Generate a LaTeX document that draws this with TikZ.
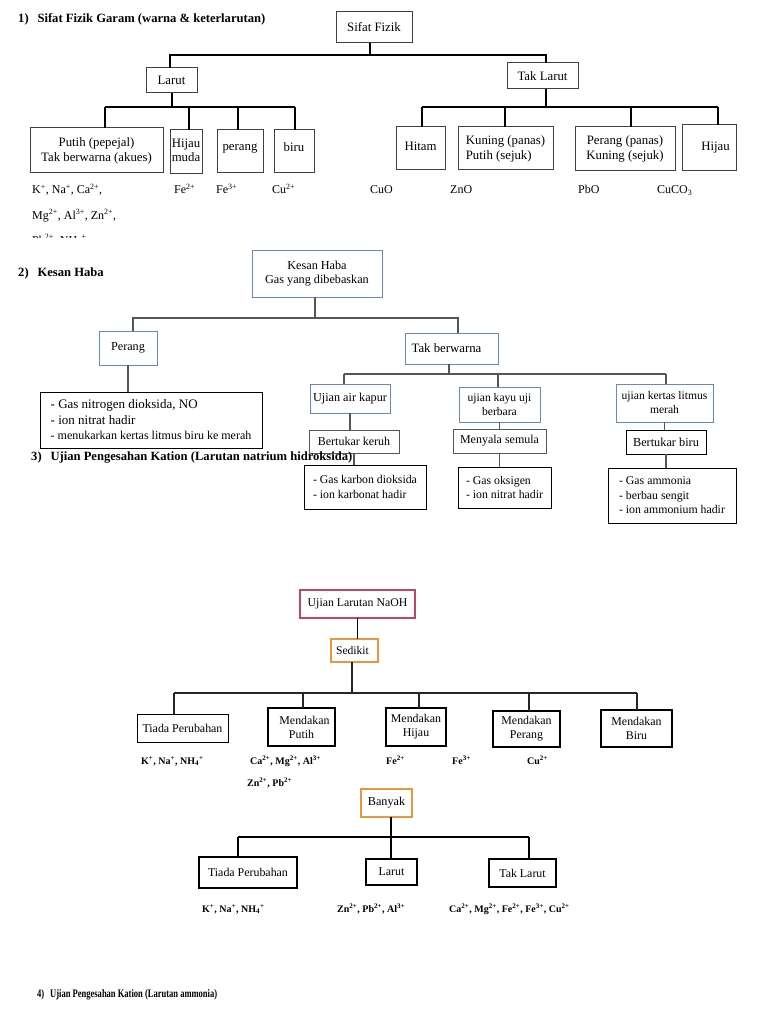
\documentclass[tikz,border=0pt]{standalone}
\usepackage{fontspec}
\setmainfont{Liberation Serif}
\usepackage{graphicx}
\usetikzlibrary{calc}
\definecolor{bblue}{RGB}{105,135,200}
\definecolor{rbox}{RGB}{195,70,95}
\definecolor{obox}{RGB}{235,150,60}
\definecolor{lgray}{RGB}{85,85,85}
\newcommand\sps[1]{\textsuperscript{#1}}
\newcommand\sbs[1]{\textsubscript{#1}}
\newcommand\bx[7]{\node[#2, minimum width={(#5-#3)*1pt}, minimum height={(#6-#4)*1pt}] (#1) at ({(#3+#5)/2},{(#4+#6)/2}) {#7};}
\tikzset{
  base/.style={inner sep=0pt, outer sep=0pt, align=center},
  box1/.style={base, draw=black!75, line width=1pt, font=\fontsize{12.8}{15}\selectfont},
  c1/.style={line width=2pt, black},
  bbox/.style={base, draw=bblue, line width=1pt, font=\fontsize{12.2}{14.5}\selectfont},
  gbox/.style={base, draw=lgray, line width=1pt, font=\fontsize{12}{14.5}\selectfont},
  kbox/.style={base, draw=black, line width=1pt, font=\fontsize{11.8}{14.5}\selectfont},
  c2/.style={line width=1.2pt, lgray},
  c3/.style={line width=1.3pt, black!85},
  c4/.style={line width=1.8pt, black},
  nbox/.style={base, draw=black, line width=1pt, font=\fontsize{11.9}{14}\selectfont},
  tbox/.style={base, draw=black, line width=1.9pt, font=\fontsize{11.9}{14}\selectfont},
  lab/.style={anchor=base west, inner sep=0pt, font=\fontsize{12}{12}\selectfont},
  blab/.style={anchor=base west, inner sep=0pt, font=\bfseries\fontsize{10}{10}\selectfont},
  ttl/.style={anchor=base west, inner sep=0pt, font=\bfseries\fontsize{12.6}{13}\selectfont}
}
\begin{document}
\begin{tikzpicture}[x=1pt,y=-1pt]
\fill[white] (0,0) rectangle (768,1024);
\useasboundingbox (0,0) rectangle (768,1024);

% ---------- Section 1 ----------
\node[ttl] (t1) at (18,23) {1)\hspace{0.7em}Sifat Fizik Garam (warna \& keterlarutan)};
\bx{sf}{box1}{336}{12}{412}{43}{Sifat Fizik}
\bx{larut}{box1}{146}{68}{197}{93}{Larut}
\bx{tl}{box1}{507}{63}{578}{89}{Tak Larut}
\bx{putih}{box1}{30}{128}{163}{173}{Putih (pepejal)\\Tak berwarna (akues)}
\bx{hm}{box1}{170}{130}{202}{174}{\raisebox{2pt}{\begin{tabular}{@{}c@{}}Hijau\\[-1pt]muda\end{tabular}}}
\bx{pr}{box1}{217}{130}{263}{173}{\raisebox{8pt}{perang}}
\bx{bi}{box1}{274}{130}{314}{173}{\raisebox{8pt}{biru}}
\bx{hi}{box1}{396}{127}{445}{170}{\raisebox{5pt}{Hitam}}
\node[box1, align=left, minimum width=95pt, minimum height=43pt] (ku) at (505.5,148.5) {Kuning (panas)\\Putih (sejuk)};
\bx{pe}{box1}{575}{127}{675}{171}{Perang (panas)\\Kuning (sejuk)}
\bx{hj}{box1}{682}{125}{736}{171}{\hspace*{13pt}Hijau}

\coordinate (b1L) at (170,55);
\coordinate (b1R) at (546,55);
\coordinate (b1M) at (370,55);
\draw[c1] (sf.south -| b1M) -- (b1M);
\draw[c1] (b1L |- larut.north) -- (b1L) -- (b1R) -- (b1R |- tl.north);

\coordinate (b2M) at (172,107);
\coordinate (d1) at (105,107);
\coordinate (d2) at (189,107);
\coordinate (d3) at (238,107);
\coordinate (d4) at (295,107);
\draw[c1] (larut.south -| b2M) -- (b2M);
\draw[c1] (d1) -- (d4);
\draw[c1] (d1) -- (d1 |- putih.north);
\draw[c1] (d2) -- (d2 |- hm.north);
\draw[c1] (d3) -- (d3 |- pr.north);
\draw[c1] (d4) -- (d4 |- bi.north);

\coordinate (b3M) at (546,107);
\coordinate (e1) at (422,107);
\coordinate (e2) at (505,107);
\coordinate (e3) at (631,107);
\coordinate (e4) at (718,107);
\draw[c1] (tl.south -| b3M) -- (b3M);
\draw[c1] (e1) -- (e4);
\draw[c1] (e1) -- (e1 |- hi.north);
\draw[c1] (e2) -- (e2 |- ku.north);
\draw[c1] (e3) -- (e3 |- pe.north);
\draw[c1] (e4) -- (e4 |- hj.north);

\node[lab] (l1a) at (32,194) {K\sps{+}, Na\sps{+}, Ca\sps{2+},};
\node[lab] (l1b) at (32,219) {Mg\sps{2+}, Al\sps{3+}, Zn\sps{2+},};
\begin{scope}
\clip (0,226) rectangle (300,237);
\node[lab] (l1c) at (32,244) {Pb\sps{2+}, NH\sbs{4}\sps{+}};
\end{scope}
\node[lab] (l1d) at (174,194) {Fe\sps{2+}};
\node[lab] (l1e) at (216,194) {Fe\sps{3+}};
\node[lab] (l1f) at (272,194) {Cu\sps{2+}};
\node[lab] (l1g) at (370,194) {CuO};
\node[lab] (l1h) at (450,194) {ZnO};
\node[lab] (l1i) at (578,194) {PbO};
\node[lab] (l1j) at (657,194) {CuCO\sbs{3}};

% ---------- Section 2 ----------
\node[ttl] (t2) at (18,276) {2)\hspace{0.7em}Kesan Haba};
\bx{kh}{bbox}{252}{250}{382}{297}{Kesan Haba\\Gas yang dibebaskan}
\bx{pg}{bbox}{99}{331}{157}{365}{Perang}
\bx{tb}{bbox, font=\fontsize{12.8}{14}\selectfont}{405}{333}{498}{364}{\hspace*{-10pt}Tak berwarna}
\node[kbox, font=\fontsize{13}{15.5}\selectfont, align=left, minimum width=222pt, minimum height=56pt] (big) at (151,420)
  {- Gas nitrogen dioksida, NO\\- ion nitrat hadir\\\fontsize{12}{12}\selectfont - menukarkan kertas litmus biru ke merah};

\coordinate (k1) at (133,318);
\coordinate (k2) at (458,318);
\coordinate (kM) at (315,318);
\draw[c2] (kh.south -| kM) -- (kM);
\draw[c2] (k1 |- pg.north) -- (k1) -- (k2) -- (k2 |- tb.north);
\draw[c2] (pg.south) -- (pg.south |- big.north);

\bx{uak}{bbox}{310}{384}{390}{413}{Ujian air kapur}
\bx{bk}{gbox}{309}{430}{399}{453}{Bertukar keruh}
\node[kbox, align=left, minimum width=122pt, minimum height=44pt] (gk) at (365,487) {- Gas karbon dioksida\\- ion karbonat hadir};
\bx{kyu}{bbox, font=\fontsize{11.6}{14}\selectfont}{459}{387}{540}{422}{ujian kayu uji\\berbara}
\bx{ms}{gbox}{453}{429}{546}{453}{Menyala semula}
\node[kbox, align=left, minimum width=93pt, minimum height=41pt] (go) at (504.5,487.5) {- Gas oksigen\\- ion nitrat hadir};
\bx{klm}{bbox, font=\fontsize{11.6}{14}\selectfont}{616}{384}{713}{422}{ujian kertas litmus\\merah}
\node[kbox, font=\fontsize{12.3}{14}\selectfont, minimum width=80pt, minimum height=24pt] (bb) at (666,442) {Bertukar biru};
\node[kbox, align=left, minimum width=128pt, minimum height=55pt] (ga) at (672,495.5) {- Gas ammonia\\- berbau sengit\\- ion ammonium hadir};

\coordinate (m1) at (344,374);
\coordinate (m2) at (498,374);
\coordinate (m3) at (666,374);
\coordinate (mM) at (449,374);
\draw[c2] (tb.south -| mM) -- (mM);
\draw[c2] (m1) -- (m3);
\draw[c2] (m1) -- (m1 |- uak.north);
\draw[c2] (m2) -- (m2 |- kyu.north);
\draw[c2] (m3) -- (m3 |- klm.north);
\draw[c2] (uak.south) -- (uak.south |- bk.north);
\draw[c2] (bk.south) -- (bk.south |- gk.north);
\draw[c2] (kyu.south) -- (kyu.south |- ms.north);
\draw[c2] (ms.south) -- (ms.south |- go.north);
\draw[c2] (klm.south) -- (klm.south |- bb.north);
\draw[c2] (bb.south) -- (bb.south |- ga.north);

% ---------- Section 3 ----------
\node[ttl] (t3) at (31,460) {3)\hspace{0.7em}Ujian Pengesahan Kation (Larutan natrium hidroksida)};

\bx{nao}{base, draw=rbox, line width=1.2pt, font=\fontsize{11.8}{13}\selectfont}{300}{590}{415}{618}{Ujian Larutan NaOH}
\bx{sed}{base, draw=obox, line width=1.6pt, font=\fontsize{11.6}{13}\selectfont}{331}{639}{378}{662}{\hspace*{-4pt}Sedikit}
\draw[c4] (nao.south) -- (nao.south |- sed.north);

\bx{tp1}{nbox}{137}{714}{228}{742}{Tiada Perubahan}
\bx{mp}{tbox}{268}{708}{335}{746}{\hspace*{6pt}Mendakan\\Putih}
\bx{mh}{base, draw=black, line width=1.3pt, font=\fontsize{11.9}{14}\selectfont}{386}{708}{446}{746}{Mendakan\\Hijau}
\bx{mpe}{tbox}{493}{711}{560}{747}{Mendakan\\Perang}
\bx{mbi}{tbox}{601}{710}{672}{747}{Mendakan\\Biru}

\coordinate (sM) at (352,693);
\coordinate (s1) at (174,693);
\coordinate (s2) at (303,693);
\coordinate (s3) at (419,693);
\coordinate (s4) at (529,693);
\coordinate (s5) at (637,693);
\draw[c3] (sed.south -| sM) -- (sM);
\draw[c3] (s1) -- (s5);
\draw[c3] (s1) -- (s1 |- tp1.north);
\draw[c3] (s2) -- (s2 |- mp.north);
\draw[c3] (s3) -- (s3 |- mh.north);
\draw[c3] (s4) -- (s4 |- mpe.north);
\draw[c3] (s5) -- (s5 |- mbi.north);

\node[blab] (l3a) at (141,764) {K\sps{+}, Na\sps{+}, NH\sbs{4}\sps{+}};
\node[blab] (l3b) at (250,764) {Ca\sps{2+}, Mg\sps{2+}, Al\sps{3+}};
\node[blab] (l3c) at (247,786) {Zn\sps{2+}, Pb\sps{2+}};
\node[blab] (l3d) at (386,764) {Fe\sps{2+}};
\node[blab] (l3e) at (452,764) {Fe\sps{3+}};
\node[blab] (l3f) at (527,764) {Cu\sps{2+}};

\bx{ban}{base, draw=obox, line width=1.6pt, font=\fontsize{12.2}{13}\selectfont}{361}{789}{412}{817}{Banyak}
\bx{tp2}{tbox}{199}{857}{297}{888}{Tiada Perubahan}
\bx{lar}{nbox, line width=1.5pt}{366}{859}{417}{885}{Larut}
\bx{tkl}{tbox}{489}{859}{556}{887}{Tak Larut}

\coordinate (n1) at (238,837);
\coordinate (n2) at (391,837);
\coordinate (n3) at (529,837);
\draw[c4] (ban.south -| n2) -- (n2 |- lar.north);
\draw[c4] (n1) -- (n3);
\draw[c4] (n1) -- (n1 |- tp2.north);
\draw[c4] (n3) -- (n3 |- tkl.north);

\node[blab] (l3g) at (202,912) {K\sps{+}, Na\sps{+}, NH\sbs{4}\sps{+}};
\node[blab] (l3h) at (337,912) {Zn\sps{2+}, Pb\sps{2+}, Al\sps{3+}};
\node[blab] (l3i) at (449,912) {Ca\sps{2+}, Mg\sps{2+}, Fe\sps{2+}, Fe\sps{3+}, Cu\sps{2+}};

% ---------- Section 4 ----------
\node[ttl] (t4) at (37,997) {\scalebox{0.74}[1]{\fontsize{11.5}{13}\selectfont 4)\hspace{0.7em}Ujian Pengesahan Kation (Larutan ammonia)}};
\end{tikzpicture}
\end{document}
